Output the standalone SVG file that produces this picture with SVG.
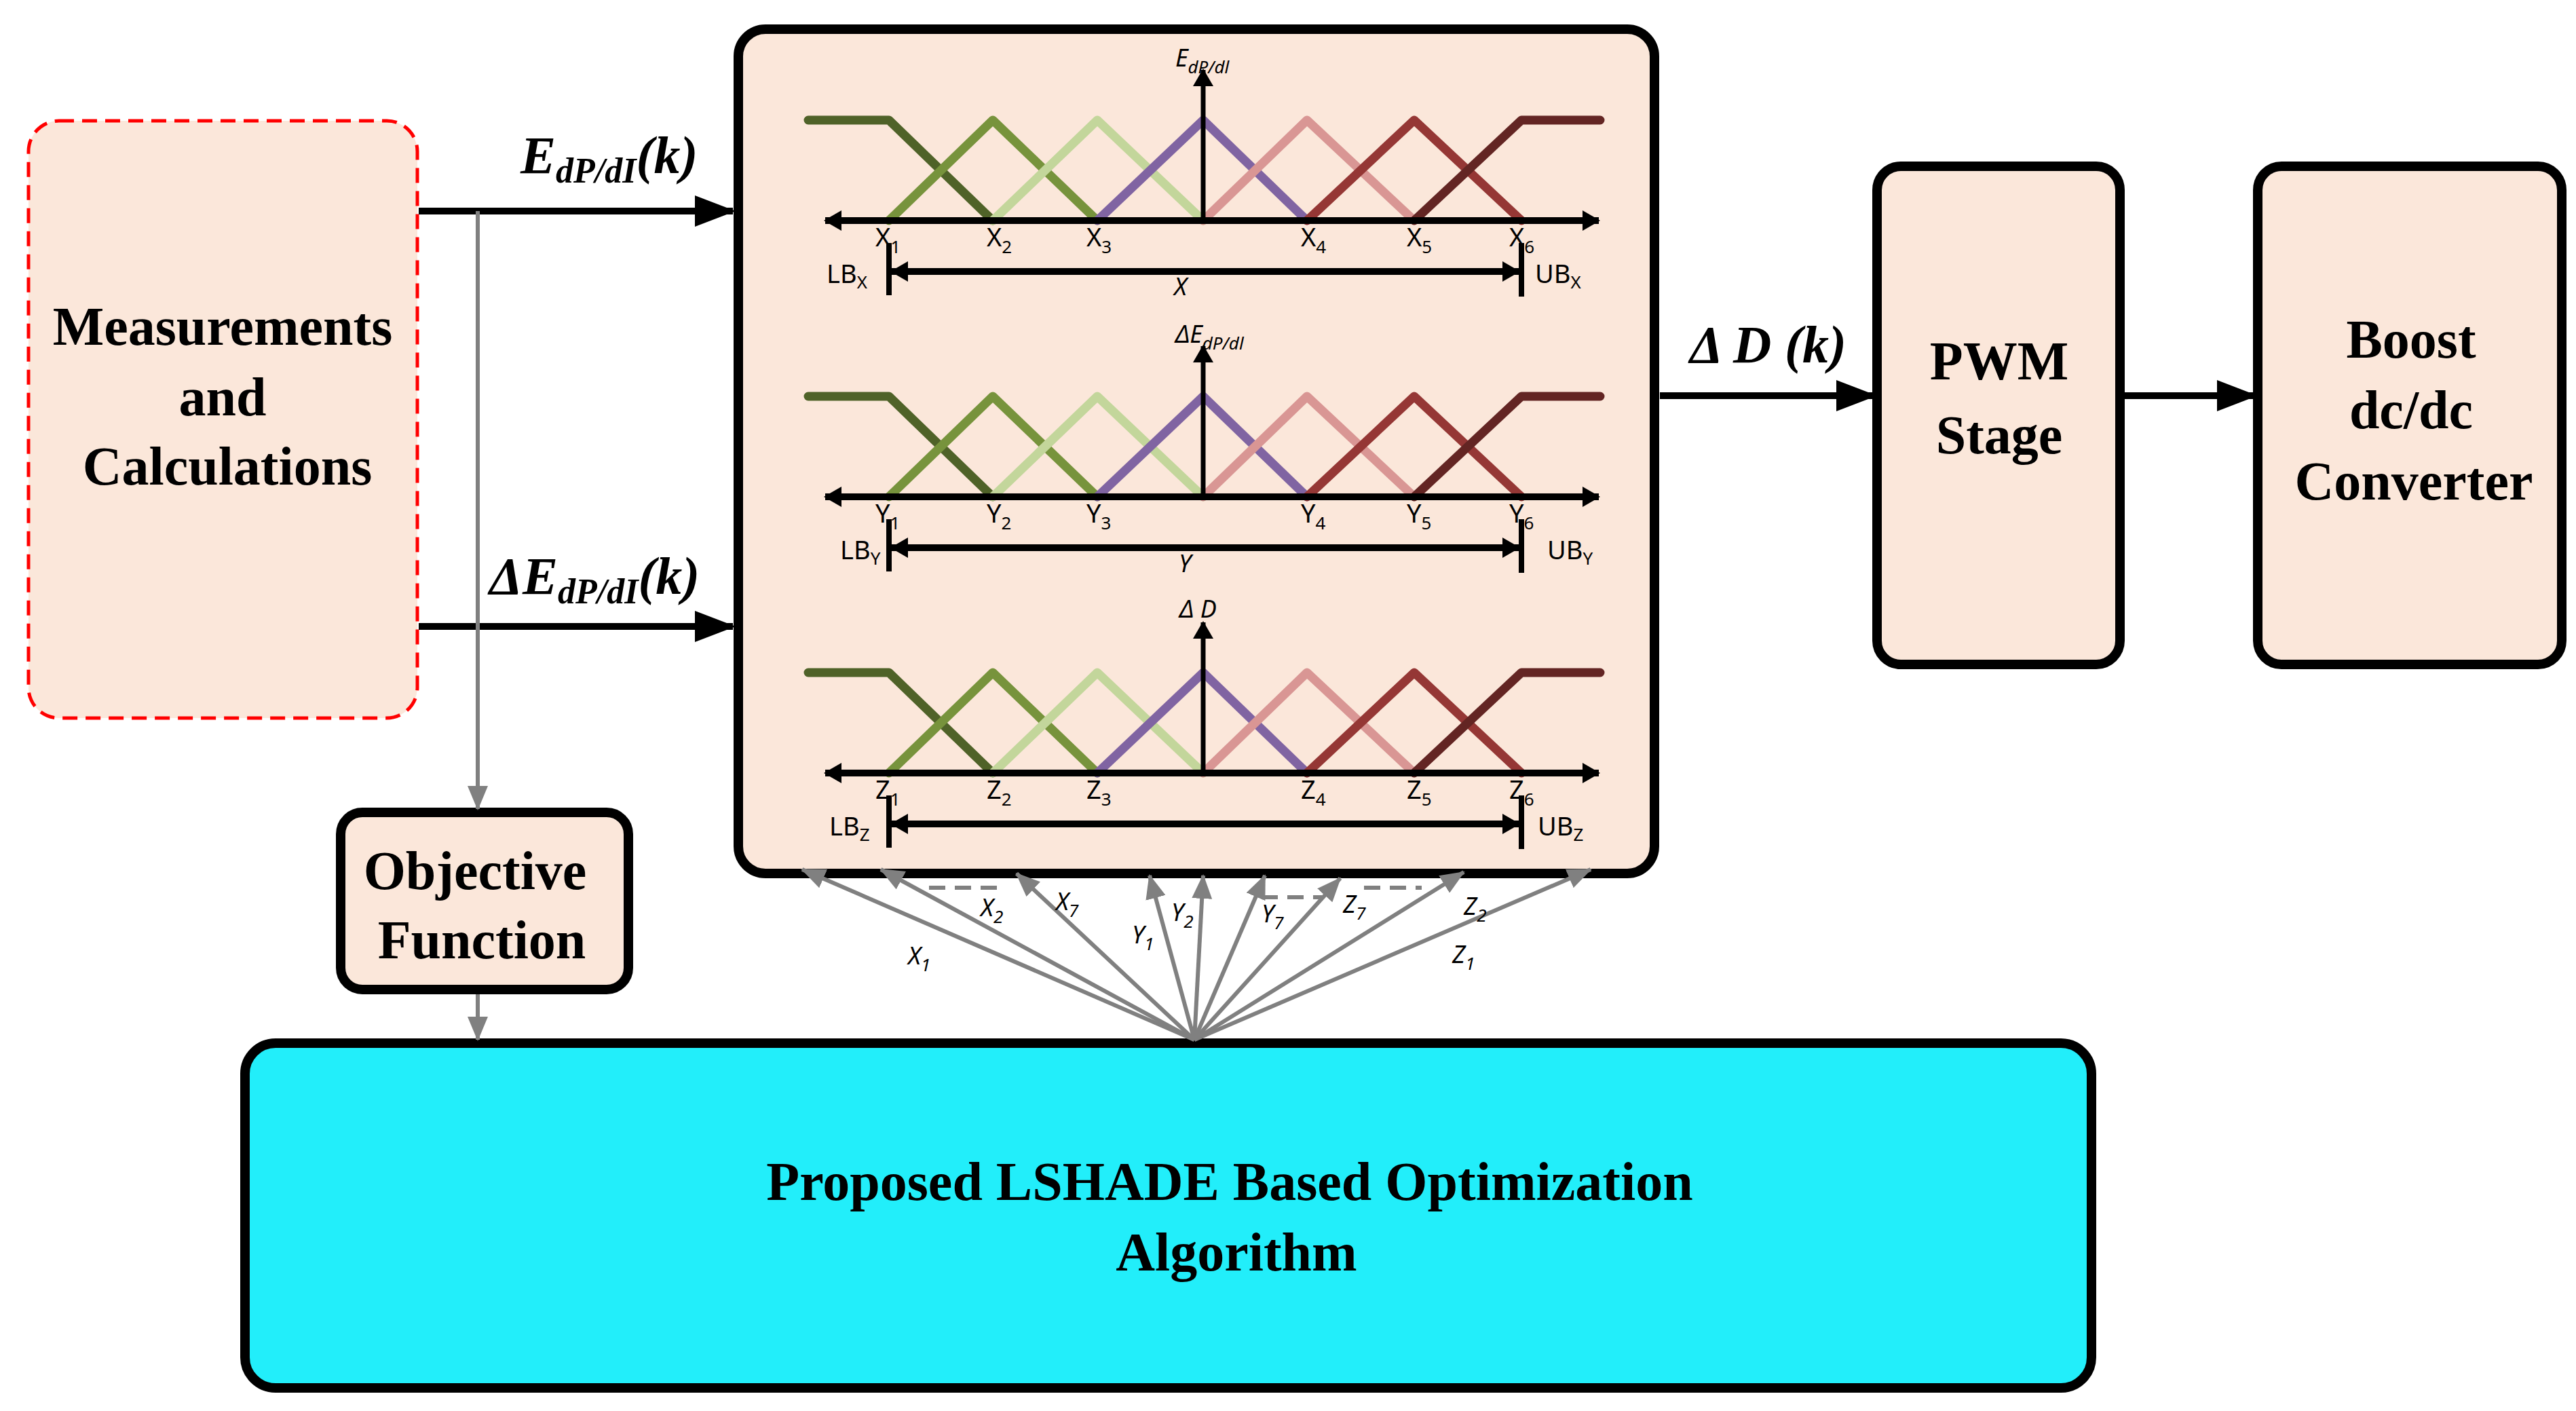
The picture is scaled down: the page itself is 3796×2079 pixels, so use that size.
<svg xmlns="http://www.w3.org/2000/svg" width="3796" height="2079" viewBox="0 0 3796 2079">
<style>
.box{fill:#fbe7da;stroke:#000;stroke-width:14}
.big{font-family:"Liberation Serif",serif;font-weight:bold;font-size:80px;text-anchor:middle}
.bi{font-family:"Liberation Serif",serif;font-weight:bold;font-style:italic;font-size:78px}
.lb{font-family:"Noto Sans","Liberation Sans",sans-serif;font-size:38px}
.it{font-family:"Noto Sans","Liberation Sans",sans-serif;font-size:36px;font-style:italic}
.mf{fill:none;stroke-width:13;stroke-linecap:round;stroke-linejoin:round}
.ga{stroke:#808080;stroke-width:6;fill:none}
</style>
<defs>
<marker id="ab" markerUnits="userSpaceOnUse" markerWidth="60" markerHeight="46" refX="56" refY="23" orient="auto-start-reverse" viewBox="0 0 60 46"><path d="M0,0 L60,23 L0,46 Z" fill="#000"/></marker>
<marker id="as" markerUnits="userSpaceOnUse" markerWidth="26" markerHeight="30" refX="24" refY="15" orient="auto-start-reverse" viewBox="0 0 26 30"><path d="M0,0 L26,15 L0,30 Z" fill="#000"/></marker>
<marker id="ag" markerUnits="userSpaceOnUse" markerWidth="36" markerHeight="30" refX="34" refY="15" orient="auto" viewBox="0 0 36 30"><path d="M0,0 L36,15 L0,30 Z" fill="#808080"/></marker>
<g id="row">
<polyline class="mf" stroke="#4f6228" points="1191,-148 1310,-148 1463,0"/>
<polyline class="mf" stroke="#77933c" points="1310,0 1463,-148 1617,0"/>
<polyline class="mf" stroke="#c3d69b" points="1463,0 1617,-148 1773,0"/>
<polyline class="mf" stroke="#8064a2" points="1617,0 1773,-148 1926,0"/>
<polyline class="mf" stroke="#d99694" points="1773,0 1926,-148 2084,0"/>
<polyline class="mf" stroke="#953735" points="1926,0 2084,-148 2242,0"/>
<polyline class="mf" stroke="#632523" points="2084,0 2242,-148 2358,-148"/>
<line x1="1216" y1="0" x2="2356" y2="0" stroke="#000" stroke-width="10" marker-start="url(#as)" marker-end="url(#as)"/>
<line x1="1773" y1="0" x2="1773" y2="-222" stroke="#000" stroke-width="7" marker-end="url(#as)"/>
<line x1="1310" y1="33" x2="1310" y2="110" stroke="#000" stroke-width="8"/>
<line x1="2242" y1="33" x2="2242" y2="112" stroke="#000" stroke-width="8"/>
<line x1="1314" y1="75" x2="2238" y2="75" stroke="#000" stroke-width="10" marker-start="url(#as)" marker-end="url(#as)"/>
</g>
</defs>

<g id="measurements">
<rect x="42" y="178" width="573" height="880" rx="45" fill="#fbe7da" stroke="#ff0000" stroke-width="5" stroke-dasharray="22,12"/>
<text class="big" x="328" y="508">Measurements</text>
<text class="big" x="328" y="612">and</text>
<text class="big" x="335" y="714">Calculations</text>
</g>

<g id="fuzzy">
<rect class="box" x="1088" y="43" width="1350" height="1244" rx="40"/>
<use href="#row" transform="translate(0,325)"/>
<use href="#row" transform="translate(0,732)"/>
<use href="#row" transform="translate(0,1139)"/>
<text class="it" x="1732" y="98">E<tspan font-size="26" dy="10">dP/dl</tspan></text>
<text class="it" x="1732" y="505">ΔE<tspan font-size="26" dy="10">dP/dl</tspan></text>
<text class="it" x="1738" y="910">Δ D</text>
<g class="lb">
<text x="1290" y="363">X<tspan font-size="26" dy="10">1</tspan></text>
<text x="1454" y="363">X<tspan font-size="26" dy="10">2</tspan></text>
<text x="1601" y="363">X<tspan font-size="26" dy="10">3</tspan></text>
<text x="1917" y="363">X<tspan font-size="26" dy="10">4</tspan></text>
<text x="2073" y="363">X<tspan font-size="26" dy="10">5</tspan></text>
<text x="2224" y="363">X<tspan font-size="26" dy="10">6</tspan></text>
<text x="1218" y="417">LB<tspan font-size="26" dy="8">X</tspan></text>
<text x="2262" y="417">UB<tspan font-size="26" dy="8">X</tspan></text>
<text x="1290" y="770">Y<tspan font-size="26" dy="10">1</tspan></text>
<text x="1454" y="770">Y<tspan font-size="26" dy="10">2</tspan></text>
<text x="1601" y="770">Y<tspan font-size="26" dy="10">3</tspan></text>
<text x="1917" y="770">Y<tspan font-size="26" dy="10">4</tspan></text>
<text x="2073" y="770">Y<tspan font-size="26" dy="10">5</tspan></text>
<text x="2224" y="770">Y<tspan font-size="26" dy="10">6</tspan></text>
<text x="1238" y="824">LB<tspan font-size="26" dy="8">Y</tspan></text>
<text x="2280" y="824">UB<tspan font-size="26" dy="8">Y</tspan></text>
<text x="1290" y="1177">Z<tspan font-size="26" dy="10">1</tspan></text>
<text x="1454" y="1177">Z<tspan font-size="26" dy="10">2</tspan></text>
<text x="1601" y="1177">Z<tspan font-size="26" dy="10">3</tspan></text>
<text x="1917" y="1177">Z<tspan font-size="26" dy="10">4</tspan></text>
<text x="2073" y="1177">Z<tspan font-size="26" dy="10">5</tspan></text>
<text x="2224" y="1177">Z<tspan font-size="26" dy="10">6</tspan></text>
<text x="1222" y="1231">LB<tspan font-size="26" dy="8">Z</tspan></text>
<text x="2266" y="1231">UB<tspan font-size="26" dy="8">Z</tspan></text>
</g>
<text class="it" x="1730" y="435">X</text>
<text class="it" x="1737" y="843">Y</text>
</g>

<g id="objective">
<rect class="box" x="502" y="1197" width="424" height="261" rx="32"/>
<text class="big" x="700" y="1310">Objective</text>
<text class="big" x="710" y="1412">Function</text>
</g>

<g id="lshade">
<rect x="361" y="1537" width="2721" height="508" rx="45" fill="#22eefa" stroke="#000" stroke-width="14"/>
<text class="big" x="1812" y="1768">Proposed LSHADE Based Optimization</text>
<text class="big" x="1822" y="1872">Algorithm</text>
</g>

<g id="pwm">
<rect class="box" x="2766" y="245" width="358" height="734" rx="35"/>
<text class="big" x="2946" y="559">PWM</text>
<text class="big" x="2946" y="668">Stage</text>
</g>

<g id="boost">
<rect class="box" x="3327" y="245" width="448" height="734" rx="35"/>
<text class="big" x="3553" y="527">Boost</text>
<text class="big" x="3553" y="631">dc/dc</text>
<text class="big" x="3557" y="736">Converter</text>
</g>

<g id="connectors">
<line x1="617" y1="311" x2="1080" y2="311" stroke="#000" stroke-width="10" marker-end="url(#ab)"/>
<line x1="617" y1="923" x2="1080" y2="923" stroke="#000" stroke-width="10" marker-end="url(#ab)"/>
<line x1="2446" y1="583" x2="2762" y2="583" stroke="#000" stroke-width="10" marker-end="url(#ab)"/>
<line x1="3131" y1="583" x2="3323" y2="583" stroke="#000" stroke-width="10" marker-end="url(#ab)"/>
<line class="ga" x1="704" y1="311" x2="704" y2="1192" marker-end="url(#ag)"/>
<line class="ga" x1="704" y1="1465" x2="704" y2="1532" marker-end="url(#ag)"/>
<line class="ga" x1="1760" y1="1532" x2="1182" y2="1281" marker-end="url(#ag)"/>
<line class="ga" x1="1760" y1="1532" x2="1298" y2="1281" marker-end="url(#ag)"/>
<line class="ga" x1="1760" y1="1532" x2="1498" y2="1287" marker-end="url(#ag)"/>
<line class="ga" x1="1760" y1="1532" x2="1694" y2="1290" marker-end="url(#ag)"/>
<line class="ga" x1="1760" y1="1532" x2="1773" y2="1290" marker-end="url(#ag)"/>
<line class="ga" x1="1760" y1="1532" x2="1864" y2="1290" marker-end="url(#ag)"/>
<line class="ga" x1="1760" y1="1532" x2="1975" y2="1294" marker-end="url(#ag)"/>
<line class="ga" x1="1760" y1="1532" x2="2157" y2="1285" marker-end="url(#ag)"/>
<line class="ga" x1="1760" y1="1532" x2="2344" y2="1281" marker-end="url(#ag)"/>
<line class="ga" x1="1369" y1="1308" x2="1472" y2="1308" stroke-dasharray="24,14"/>
<line class="ga" x1="1859" y1="1322" x2="1948" y2="1322" stroke-dasharray="24,14"/>
<line class="ga" x1="2010" y1="1308" x2="2095" y2="1308" stroke-dasharray="24,14"/>
</g>

<g id="labels">
<text class="bi" x="767" y="255">E<tspan font-size="52" dy="14">dP/dI</tspan><tspan dy="-14">(k)</tspan></text>
<text class="bi" x="721" y="875">ΔE<tspan font-size="52" dy="14">dP/dI</tspan><tspan dy="-14">(k)</tspan></text>
<text class="bi" x="2490" y="534">Δ D (k)</text>
<g class="it">
<text x="1338" y="1421">X<tspan font-size="26" dy="10">1</tspan></text>
<text x="1445" y="1350">X<tspan font-size="26" dy="10">2</tspan></text>
<text x="1556" y="1341">X<tspan font-size="26" dy="10">7</tspan></text>
<text x="1668" y="1390">Y<tspan font-size="26" dy="10">1</tspan></text>
<text x="1726" y="1357">Y<tspan font-size="26" dy="10">2</tspan></text>
<text x="1859" y="1359">Y<tspan font-size="26" dy="10">7</tspan></text>
<text x="1979" y="1345">Z<tspan font-size="26" dy="10">7</tspan></text>
<text x="2157" y="1348">Z<tspan font-size="26" dy="10">2</tspan></text>
<text x="2140" y="1419">Z<tspan font-size="26" dy="10">1</tspan></text>
</g>
</g>
</svg>
